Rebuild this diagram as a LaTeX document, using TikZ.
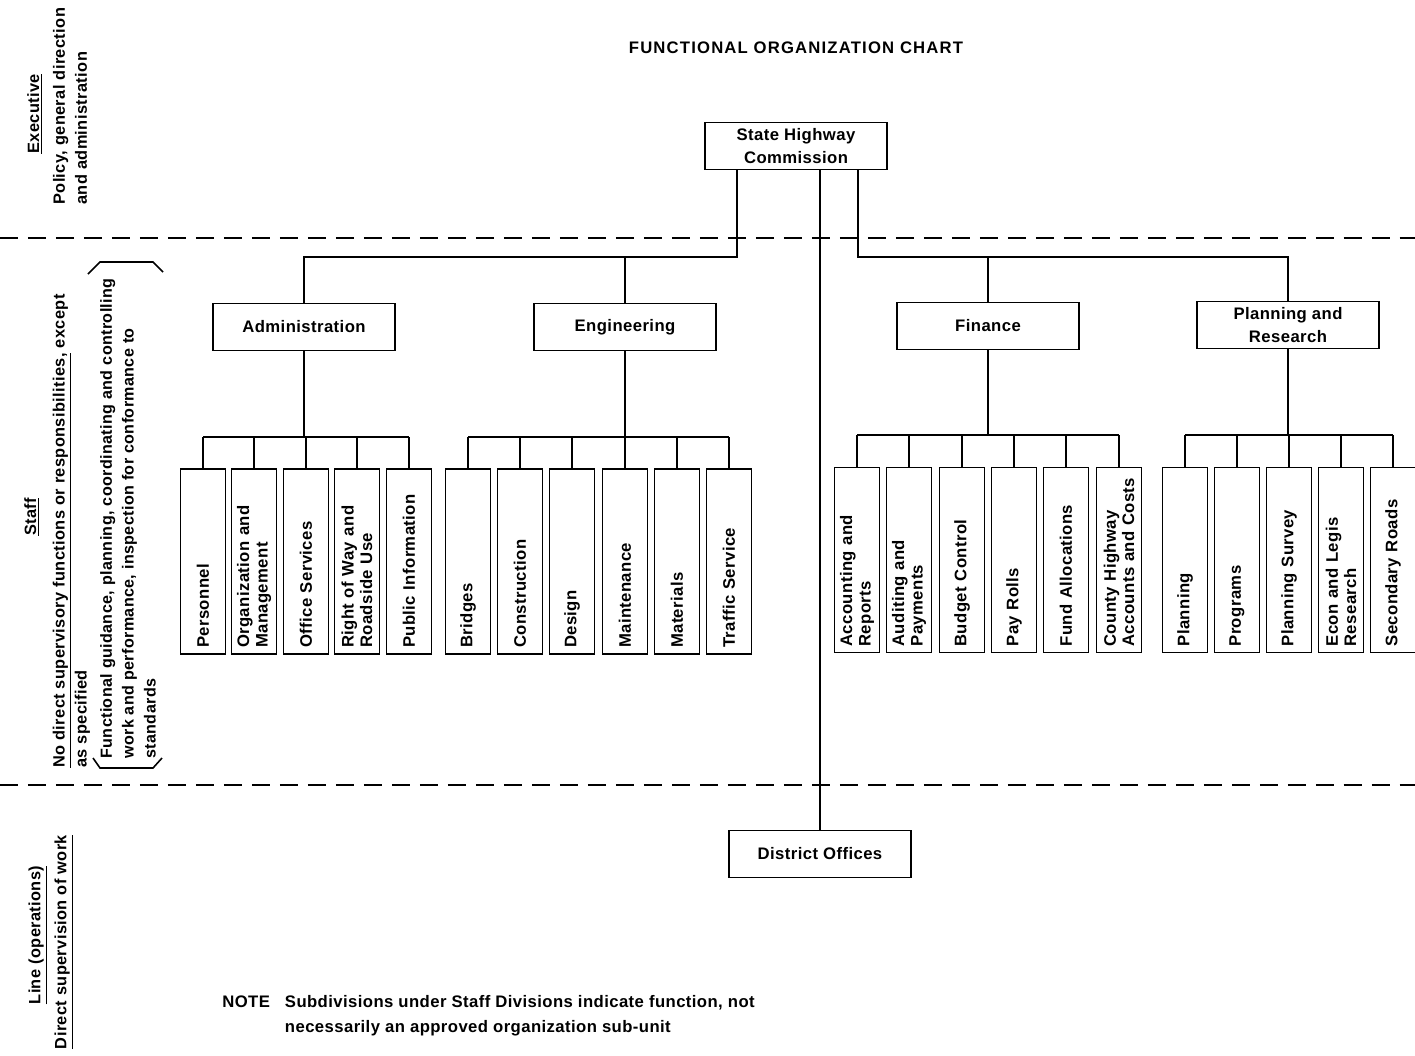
\documentclass[tikz,border=0pt]{standalone}
\usepackage{fontspec}
\setmainfont{Liberation Sans}[LetterSpace=2.5]
\newfontfamily\titlefont{Liberation Sans}[LetterSpace=7]
\usepackage{tikz}

\tikzset{
  unitbox/.style={draw, line width=1.1pt, minimum width=3.64cm, minimum height=0.94cm, align=center, inner sep=2pt, font=\bfseries\fontsize{9.5}{13}\selectfont},
  subbox/.style={draw, line width=1.1pt, rotate=90, minimum height=0.9cm, text width=3.46cm, inner xsep=0.12cm, inner ysep=1pt, align=left, font=\bfseries\fontsize{9.5}{10.5}\selectfont},
  sidelabel/.style={rotate=90, inner sep=0pt, align=left, font=\bfseries\fontsize{9.3}{12.5}\selectfont},
  link/.style={line width=0.9pt},
  divider/.style={line width=1.1pt, dash pattern=on 0.36cm off 0.2cm}
}

\begin{document}
\begin{tikzpicture}[x=0.02cm, y=-0.02cm]
  \useasboundingbox (0,0) rectangle (1415,1055);
  % Title and dividers
  \node[font=\titlefont\bfseries\fontsize{9.5}{11}\selectfont] (title) at (796,48) {FUNCTIONAL ORGANIZATION CHART};
  \draw[divider] (0,238) -- (1415,238);
  \draw[divider] (0,785) -- (1415,785);
  % Side labels
  \node[sidelabel] (exect) at (35,114) {\underline{Executive}};
  \node[sidelabel, anchor=west] (execd) at (70,205) {Policy, general direction\\and administration};
  \node[sidelabel] (stafft) at (32,517) {\underline{Staff}};
  \node[sidelabel, anchor=west] (staffd) at (71.5,768) {\underline{No direct supervisory functions or responsibilities,} except\\as specified};
  \node[sidelabel, anchor=west, font=\bfseries\fontsize{9.15}{12.5}\selectfont] (staffg) at (128,759) {Functional guidance, planning, coordinating and controlling\\work and performance, inspection for conformance to\\standards};
  \draw[link] (88,274) -- (100,262) -- (153,262) -- (163,272);
  \draw[link] (93,758) -- (100,768) -- (153,768) -- (162,758);
  \node[sidelabel] (linet) at (38,935) {\underline{Line (operations)}};
  \node[sidelabel] (lined) at (64,942) {\underline{Direct supervision of work}};
  % Main units
  \node[unitbox] (shc) at (796,146) {State Highway\\Commission};
  \node[unitbox] (adm) at (304,327) {Administration};
  \node[unitbox] (eng) at (625,327) {Engineering};
  \node[unitbox] (fin) at (988,326) {Finance};
  \node[unitbox] (plan) at (1288,325) {Planning and\\Research};
  \node[unitbox] (dist) at (820,854) {District Offices};
  % Administration functions
  \node[subbox] (per) at (203,561.5) {Personnel};
  \node[subbox] (org) at (254,561.5) {Organization and\\Management};
  \node[subbox] (off) at (306,561.5) {Office Services};
  \node[subbox] (row) at (357,561.5) {Right of Way and\\Roadside Use};
  \node[subbox] (pub) at (409,561.5) {Public Information};
  % Engineering functions
  \node[subbox] (bri) at (468,561.5) {Bridges};
  \node[subbox] (con) at (520,561.5) {Construction};
  \node[subbox] (des) at (572,561.5) {Design};
  \node[subbox] (mai) at (625,561.5) {Maintenance};
  \node[subbox] (mat) at (677,561.5) {Materials};
  \node[subbox] (tra) at (729,561.5) {Traffic Service};
  % Finance functions
  \node[subbox] (acc) at (857,560) {Accounting and\\Reports};
  \node[subbox] (aud) at (909,560) {Auditing and\\Payments};
  \node[subbox] (bud) at (962,560) {Budget Control};
  \node[subbox] (pay) at (1014,560) {Pay Rolls};
  \node[subbox] (fun) at (1066,560) {Fund Allocations};
  \node[subbox] (cou) at (1119,560) {County Highway\\Accounts and Costs};
  % Planning functions
  \node[subbox] (pln) at (1185,560) {Planning};
  \node[subbox] (pro) at (1237,560) {Programs};
  \node[subbox] (sur) at (1289,560) {Planning Survey};
  \node[subbox] (eco) at (1341,560) {Econ and Legis\\Research};
  \node[subbox] (sec) at (1393,560) {Secondary Roads};
  % Connectors
  \coordinate (busL) at (737,257);
  \coordinate (busR) at (858,257);
  \draw[link] (shc.south -| busL) -- (busL) -| (adm.north);
  \draw[link] (eng.north) -- (eng.north |- busL);
  \draw[link] (shc.south -| busR) -- (busR) -| (plan.north);
  \draw[link] (fin.north) -- (fin.north |- busR);
  \draw[link] (shc.south -| dist.north) -- (dist.north);
  \coordinate (admbus) at (305,437);
  \coordinate (engbus) at (625,437);
  \coordinate (finbus) at (988,435);
  \coordinate (plnbus) at (1287,435);
  \draw[link] (adm.south) -- (adm.south |- admbus);
  \draw[link] (per.east |- admbus) -- (pub.east |- admbus);
  \foreach \c in {per,org,off,row,pub} \draw[link] (\c.east) -- (\c.east |- admbus);
  \draw[link] (eng.south) -- (eng.south |- engbus);
  \draw[link] (bri.east |- engbus) -- (tra.east |- engbus);
  \foreach \c in {bri,con,des,mai,mat,tra} \draw[link] (\c.east) -- (\c.east |- engbus);
  \draw[link] (fin.south) -- (fin.south |- finbus);
  \draw[link] (acc.east |- finbus) -- (cou.east |- finbus);
  \foreach \c in {acc,aud,bud,pay,fun,cou} \draw[link] (\c.east) -- (\c.east |- finbus);
  \draw[link] (plan.south) -- (plan.south |- plnbus);
  \draw[link] (pln.east |- plnbus) -- (sec.east |- plnbus);
  \foreach \c in {pln,pro,sur,eco,sec} \draw[link] (\c.east) -- (\c.east |- plnbus);
  % Note
  \node[anchor=north west, inner sep=0pt, font=\bfseries\fontsize{9.5}{14}\selectfont] (note) at (222,990) {\begin{tabular}{@{}l@{\hspace{0.3cm}}l@{}}NOTE & Subdivisions under Staff Divisions indicate function, not\\ & necessarily an approved organization sub-unit\end{tabular}};
\end{tikzpicture}
\end{document}
